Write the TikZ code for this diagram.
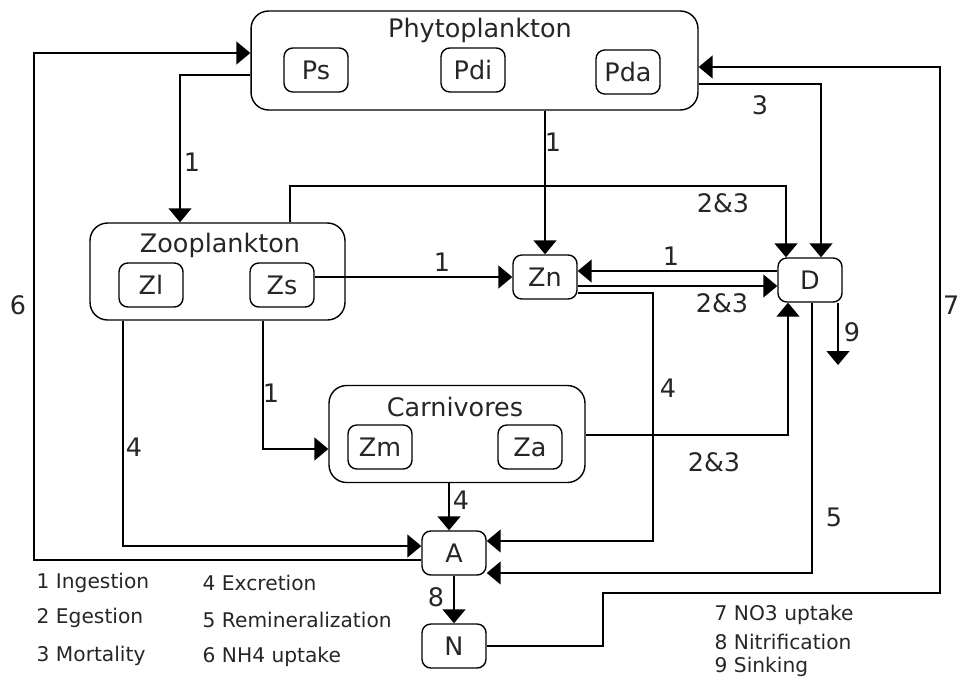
\documentclass[tikz,border=0pt]{standalone}
\usepackage{fontspec}
\setmainfont{DejaVu Sans}
\usetikzlibrary{arrows.meta}
\definecolor{tinta}{HTML}{262626}

\begin{document}
\begin{tikzpicture}[x=0.02cm, y=-0.02cm, line width=0.8pt,
    font=\fontsize{14.5}{17}\selectfont, text=tinta,
    caja/.style={draw, rounded corners=5pt, minimum width=1.28cm,
                 minimum height=0.88cm, inner sep=0pt},
    grupo/.style={draw, rounded corners=10pt, inner sep=0pt},
    flujo/.style={-{Triangle[length=0.28cm, width=0.46cm]}},
    leyenda/.style={anchor=west, inner sep=0pt, font=\fontsize{11.5}{14}\selectfont}]
	\useasboundingbox (0,0) rectangle (960,679);

	% compartimentos
	\node[grupo, minimum width=8.94cm, minimum height=1.98cm] (phyto) at (474.5,60.5) {};
	\node[grupo, minimum width=5.1cm, minimum height=1.94cm] (zoo) at (217.5,271.5) {};
	\node[grupo, minimum width=5.12cm, minimum height=1.94cm] (carn) at (457,434) {};
	\node (phytoTit) at (480,30) {Phytoplankton};
	\node (zooTit) at (220,245) {Zooplankton};
	\node (carnTit) at (455,407) {Carnivores};

	\foreach \n/\x/\y/\t in {Ps/316/70/Ps, Pdi/473/70/Pdi, Pda/628/72/Pda,
	                         Zl/151/285/Zl, Zs/282/285/Zs, Zm/380/447/Zm, Za/530/447/Za,
	                         Zn/545/277/Zn, D/810/280/D, A/454/553/A, N/454/646/N} {
		\node[caja] (\n) at (\x,\y) {\t};
	}

	% flujos
	\draw[flujo] (A.west |- 0,560) -| (34,53) -- (phyto.west |- 0,53);
	\draw[flujo] (phyto.west |- 0,75) -| (zoo.north -| 180,0);
	\draw[flujo] (N.east) -| (603,593) -| (940,67) -- (phyto.east |- 0,67);
	\draw[flujo] (phyto.east |- 0,84) -| (D.north -| 821,0);
	\draw[flujo] (phyto.south -| Zn.north) -- (Zn.north);
	\draw[flujo] (zoo.north -| 290,0) |- (786,186) -- (D.north -| 786,0);
	\draw[flujo] (Zs.east |- Zn.west) -- (Zn.west);
	\draw[flujo] (D.west |- 0,271) -- (Zn.east |- 0,271);
	\draw[flujo] (Zn.east |- 0,286) -- (D.west |- 0,286);
	\draw[flujo] (Zn.east |- 0,293) -| (653,541) -- (A.east |- 0,541);
	\draw[flujo] (D.south -| 812,0) |- (A.east |- 0,573);
	\coordinate (fondo) at (838,365);
	\draw[flujo] (D.south -| fondo) -- (fondo);
	\draw[flujo] (carn.east |- 0,435) -| (D.south -| 788,0);
	\draw[flujo] (zoo.south -| 263,0) |- (carn.west |- 0,449);
	\draw[flujo] (carn.south -| 449,0) -- (A.north -| 449,0);
	\draw[flujo] (zoo.south -| 123,0) |- (A.west |- 0,546);
	\draw[flujo] (A.south) -- (N.north);

	% etiquetas de los flujos
	\foreach \x/\y/\t [count=\k] in {18/305/6, 192/162/1, 760/105/3, 553/142/1,
	                                 723/203/2\&3, 442/262/1, 671/256/1, 722/303/2\&3,
	                                 852/332/9, 668/388/4, 271/393/1, 134/447/4,
	                                 714/462/2\&3, 461/500/4, 834/517/5, 436/597/8} {
		\node (et\k) at (\x,\y) {\t};
	}
	\node[anchor=east, inner sep=0pt] (et7) at (960,305) {7};

	% leyenda
	\foreach \x/\y/\t [count=\k] in {36/583/1 Ingestion, 36/618/2 Egestion, 36/656/3 Mortality,
	                                 202/583/4 Excretion, 202/620/5 Remineralization,
	                                 202/657/6 NH4 uptake, 714/615/7 NO3 uptake,
	                                 714/642/8 Nitrification, 714/667/9 Sinking} {
		\node[leyenda] (ley\k) at (\x,\y) {\t};
	}
\end{tikzpicture}
\end{document}
